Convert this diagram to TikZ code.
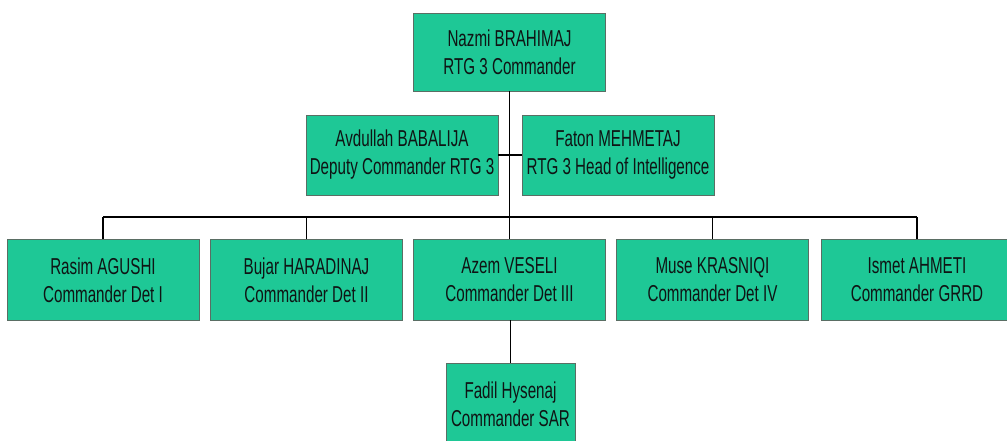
\documentclass[tikz,border=0pt]{standalone}
\usepackage{fontspec}
\setmainfont{Liberation Sans}[FakeStretch=0.66]
\definecolor{boxgreen}{RGB}{30,200,150}
\definecolor{boxline}{RGB}{90,110,100}
\definecolor{txt}{RGB}{15,20,20}
\begin{document}
\begin{tikzpicture}[x=1pt,y=-1pt,
  orgbox/.style={draw=boxline, line width=0.8pt, fill=boxgreen,
    minimum width=192pt, minimum height=81pt, inner sep=0pt,
    align=center, font=\fontsize{23}{28}\selectfont, text=txt},
  link/.style={draw=black, line width=1.3pt}]
\useasboundingbox (0,0) rectangle (1007,440);
\fill[white] (0,0) rectangle (1007,440);
\clip (0,0) rectangle (1007,440);
% nodes
\node[orgbox, minimum height=78pt] (top) at (509.5,52) {Nazmi BRAHIMAJ\\RTG 3 Commander};
\node[orgbox, minimum height=80pt] (avd) at (402,155) {Avdullah BABALIJA\\Deputy Commander RTG 3};
\node[orgbox, minimum height=80pt] (fat) at (618,155) {Faton MEHMETAJ\\RTG 3 Head of Intelligence};
\node[orgbox] (rasim) at (103,280) {Rasim AGUSHI\\Commander Det I};
\node[orgbox] (bujar) at (306.5,280) {Bujar HARADINAJ\\Commander Det II};
\node[orgbox] (azem) at (509.5,280) {Azem VESELI\\Commander Det III};
\node[orgbox] (muse) at (712.5,280) {Muse KRASNIQI\\Commander Det IV};
\node[orgbox] (ismet) at (917,280) {Ismet AHMETI\\Commander GRRD};
\node[orgbox, minimum width=129pt, minimum height=82pt] (fadil) at (510.5,404) {Fadil Hysenaj\\Commander SAR};
% connectors
\coordinate (barL) at (103,217);
\coordinate (barR) at (917,217);
\draw[link] (top.south) -- (azem.north);
\draw[link] (avd.east) -- (avd.east -| top.south);
\draw[link] (fat.west) -- (fat.west -| top.south);
\draw[link] (barL) -- (barR);
\draw[link] (rasim.north) -- (rasim.north |- barL);
\draw[link] (bujar.north) -- (bujar.north |- barL);
\draw[link] (muse.north) -- (muse.north |- barL);
\draw[link] (ismet.north) -- (ismet.north |- barL);
\draw[link] (azem.south) -- (azem.south -| fadil.north) -- (fadil.north);
\end{tikzpicture}
\end{document}
